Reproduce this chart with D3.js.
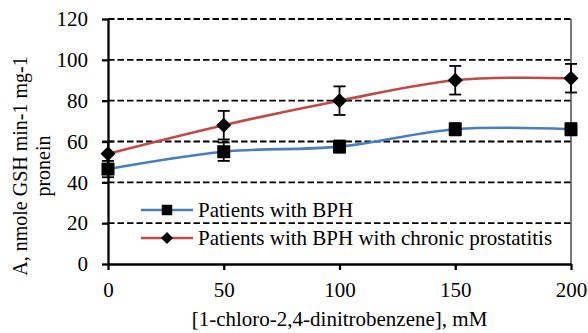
<!DOCTYPE html>
<html>
<head>
<meta charset="utf-8">
<script src="https://cdn.jsdelivr.net/npm/d3@7"></script>
<style>
  body { margin: 0; background: #fff; }
  svg text { font-family: "Liberation Serif", "Times New Roman", serif; fill: #000; }
</style>
</head>
<body>
<div class="canvas"></div>
<script>
// Data
const conc = [0, 50, 100, 150, 200];
const bph = [46.5, 55, 57.5, 66, 66];
const bphErr = [4, 4.5, 3, 3, 3];
const prost = [54, 68, 80, 90, 91];
const prostErr = [6, 7, 7, 7, 7];
const xTicks = [0, 50, 100, 150, 200];
const yTicks = [0, 20, 40, 60, 80, 100, 120];
const seriesNames = ["Patients with BPH", "Patients with BPH with chronic prostatitis"];

const dims = { width: 588, height: 333 };
const margin = { left: 108, right: 17, top: 19, bottom: 69 };
const fontStack = '"Liberation Serif", "Times New Roman", serif';

const svg = d3
  .select(".canvas")
  .append("svg")
  .attr("width", dims.width)
  .attr("height", dims.height)
  .style("font-family", fontStack);

const x = d3.scaleLinear().domain([0, 200]).range([margin.left, dims.width - margin.right]);
const y = d3.scaleLinear().domain([0, 120]).range([dims.height - margin.bottom, margin.top]);

// Gridlines (dashed)
svg
  .append("g")
  .selectAll("line")
  .data(yTicks.filter((d) => d > 0))
  .enter()
  .append("line")
  .attr("x1", x(0))
  .attr("x2", x(200))
  .attr("y1", (d) => y(d))
  .attr("y2", (d) => y(d))
  .attr("stroke", "#000")
  .attr("stroke-width", 1.8)
  .attr("stroke-dasharray", "6.5,3");

// Right border
svg
  .append("line")
  .attr("x1", x(200))
  .attr("x2", x(200))
  .attr("y1", y(120))
  .attr("y2", y(0))
  .attr("stroke", "#222")
  .attr("stroke-width", 1.2);

// Axes
const xAxis = d3.axisBottom(x).tickValues(xTicks).tickSize(6).tickPadding(12).tickSizeOuter(0);
const yAxis = d3.axisLeft(y).tickValues(yTicks).tickSize(6).tickPadding(14).tickSizeOuter(0);

const gx = svg
  .append("g")
  .attr("transform", `translate(0, ${y(0)})`)
  .call(xAxis);
const gy = svg
  .append("g")
  .attr("transform", `translate(${x(0)}, 0)`)
  .call(yAxis);

[gx, gy].forEach((g) => {
  g.attr("font-family", null).attr("font-size", null);
  g.select(".domain").attr("stroke", "#000").attr("stroke-width", 2.3);
  g.selectAll(".tick line").attr("stroke", "#000").attr("stroke-width", 2.3);
  g.selectAll("text").style("font-size", "21px").style("font-family", fontStack);
});

// Axis titles
svg
  .append("text")
  .attr("x", (x(0) + x(200)) / 2)
  .attr("y", 326)
  .attr("text-anchor", "middle")
  .style("font-size", "21px")
  .text("[1-chloro-2,4-dinitrobenzene],  mM");

const yTitle = svg
  .append("text")
  .attr("transform", `translate(27, 166) rotate(-90)`)
  .attr("text-anchor", "middle")
  .style("font-size", "20px");
yTitle.append("tspan").attr("x", 0).attr("dy", 0).text("A,  nmole GSH min-1  mg-1");
yTitle.append("tspan").attr("x", 0).attr("dy", 23).text("pronein");

// Lines (Excel-style smoothing)
const line = d3
  .line()
  .x((d) => x(d.x))
  .y((d) => y(d.y))
  .curve(d3.curveCardinal.tension(0));

const series = [
  { name: seriesNames[0], vals: bph, err: bphErr, color: "#4a7ebb", rot: 0, size: 169, legSize: 110 },
  { name: seriesNames[1], vals: prost, err: prostErr, color: "#be4b48", rot: 45, size: 112, legSize: 72 },
];

series.forEach((s) => {
  const pts = conc.map((c, i) => ({ x: c, y: s.vals[i], e: s.err[i] }));

  svg
    .append("path")
    .datum(pts)
    .attr("d", line)
    .attr("fill", "none")
    .attr("stroke", s.color)
    .attr("stroke-width", 2.6);

  // Error bars
  const eb = svg.append("g").selectAll("g").data(pts).enter().append("g");
  eb.append("line")
    .attr("x1", (d) => x(d.x))
    .attr("x2", (d) => x(d.x))
    .attr("y1", (d) => y(d.y - d.e))
    .attr("y2", (d) => y(d.y + d.e))
    .attr("stroke", "#000")
    .attr("stroke-width", 1.8);
  [-1, 1].forEach((sgn) => {
    eb.append("line")
      .attr("x1", (d) => x(d.x) - 6)
      .attr("x2", (d) => x(d.x) + 6)
      .attr("y1", (d) => y(d.y + sgn * d.e))
      .attr("y2", (d) => y(d.y + sgn * d.e))
      .attr("stroke", "#000")
      .attr("stroke-width", 1.8);
  });

  // Markers
  svg
    .append("g")
    .selectAll("path")
    .data(pts)
    .enter()
    .append("path")
    .attr("transform", (d) => `translate(${x(d.x)}, ${y(d.y)}) rotate(${s.rot})`)
    .attr("d", d3.symbol().type(d3.symbolSquare).size(s.size))
    .attr("fill", "#000");
});

// Legend
const legend = svg
  .append("g")
  .selectAll("g")
  .data(series)
  .enter()
  .append("g")
  .attr("transform", (d, i) => `translate(141, ${210 + i * 28})`);

legend
  .append("line")
  .attr("x1", 0)
  .attr("x2", 52)
  .attr("stroke", (d) => d.color)
  .attr("stroke-width", 2.6);
legend
  .append("path")
  .attr("transform", (d) => `translate(26, 0) rotate(${d.rot})`)
  .attr("d", (d) => d3.symbol().type(d3.symbolSquare).size(d.legSize)())
  .attr("fill", "#000");
legend
  .append("text")
  .attr("x", 57)
  .attr("y", 7)
  .style("font-size", "21px")
  .text((d) => d.name);
</script>
</body>
</html>
